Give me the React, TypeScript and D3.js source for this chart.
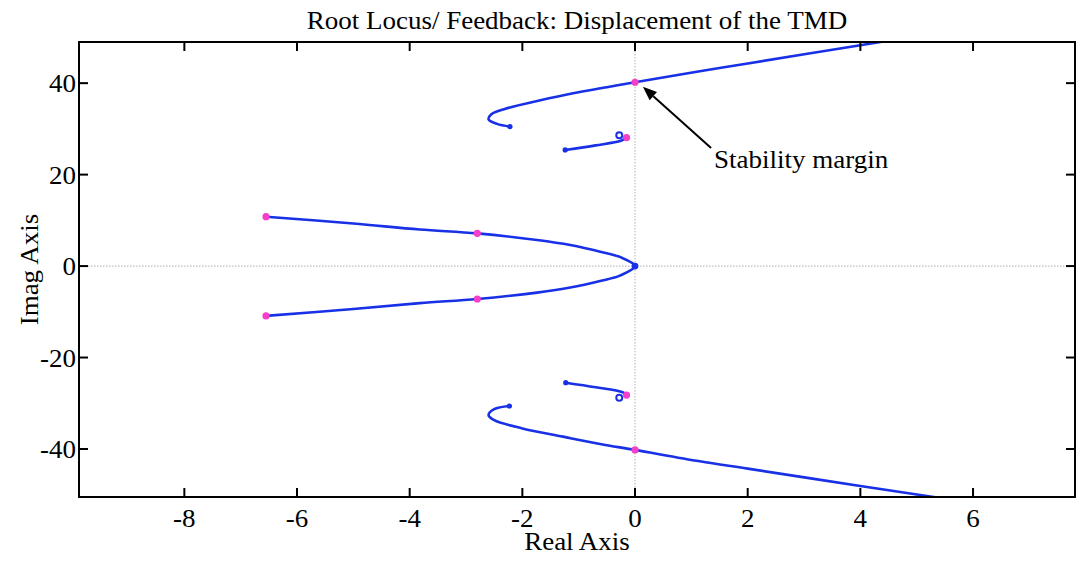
import React from "react";
import * as d3 from "d3";

type Pt = [number, number];

// Root locus branches (real, imag)
const outerUpper: Pt[] = [
  [-2.22, 30.5], [-2.45, 31.1], [-2.6, 32.1], [-2.55, 33.2], [-2.3, 34.4],
  [-1.7, 36.2], [-1.1, 37.8], [-0.5, 39.1], [0, 40.2], [1.15, 42.6],
  [2, 44.3], [4, 48.3], [5.5, 51.3],
];
const outerLower: Pt[] = [
  [-2.23, -30.6], [-2.5, -31.3], [-2.6, -32.6], [-2.5, -33.7], [-2.0, -35.5],
  [-1.28, -37.3], [-0.62, -38.9], [0, -40.2], [1.15, -42.7], [2, -44.3],
  [4, -48.1], [5.3, -50.5], [6, -51.9],
];
const innerUpper: Pt[] = [[-1.24, 25.4], [-0.7, 26.4], [-0.25, 27.4], [-0.15, 28.1]];
const innerLower: Pt[] = [[-1.23, -25.5], [-0.7, -26.5], [-0.22, -27.6], [-0.15, -28.2]];
const parabola: Pt[] = [
  [-6.55, 10.8], [-5, 9.3], [-3.82, 8.0], [-2.8, 7.15], [-1.74, 5.7], [-1.15, 4.6],
  [-0.6, 3.1], [-0.27, 2.0], [0, 0], [-0.27, -2.1], [-0.6, -3.2], [-1.15, -4.7],
  [-1.74, -5.8], [-2.8, -7.2], [-3.82, -8.1], [-5, -9.4], [-6.55, -10.9],
];
const branches: Pt[][] = [outerUpper, outerLower, innerUpper, innerLower, parabola];

// Closed-loop poles at the selected gain
const gainPoints: Pt[] = [
  [0, 40.2], [-0.15, 28.1], [-6.55, 10.8], [-2.8, 7.15],
  [-2.8, -7.2], [-6.55, -10.9], [-0.15, -28.2], [0, -40.2],
];
// Open-loop poles and zeros
const poles: Pt[] = [[-2.22, 30.5], [-1.24, 25.4], [-2.23, -30.6], [-1.23, -25.5]];
const originPole: Pt = [0, 0];
const zeros: Pt[] = [[-0.28, 28.6], [-0.28, -28.8]];

const xTicks = [-8, -6, -4, -2, 0, 2, 4, 6];
const yTicks = [-40, -20, 0, 20, 40];
const xDomain: Pt = [-9.87, 7.81];
const yDomain: Pt = [-50.5, 49];

const title = "Root Locus/ Feedback: Displacement of the TMD";
const xLabel = "Real Axis";
const yLabel = "Imag Axis";
const noteText = "Stability margin";
const noteTail: Pt = [1.35, 25.8];
const noteHead: Pt = [0.14, 39.2];

const W = 1078, H = 561;
const L = 79, R = 1075, T = 42, B = 497;
const FONT = "'Liberation Serif', 'Times New Roman', serif";
const FS = 25;
const SX = 1.08;
const BLUE = "#1830e6";
const PINK = "#f43fcb";

function Label(props: { x: number; y: number; anchor?: string; rotate?: number; children: React.ReactNode }) {
  const { x, y, anchor = "start", rotate = 0 } = props;
  return (
    <text transform={`translate(${x},${y}) rotate(${rotate}) scale(${SX},1)`} fontSize={FS}
      textAnchor={anchor} fill="#000">{props.children}</text>
  );
}

export default function App() {
  const x = d3.scaleLinear().domain(xDomain).range([L, R]);
  const y = d3.scaleLinear().domain(yDomain).range([B, T]);
  const line = d3.line<Pt>().x((d) => x(d[0])).y((d) => y(d[1])).curve(d3.curveCatmullRom.alpha(0.5));
  const tick = 9;

  const hx = x(noteHead[0]), hy = y(noteHead[1]);
  const tx = x(noteTail[0]), ty = y(noteTail[1]);
  const ang = Math.atan2(hy - ty, hx - tx);
  const aLen = 14, aW = 5.5;
  const bx = hx - aLen * Math.cos(ang), by = hy - aLen * Math.sin(ang);
  const head = [
    [hx, hy],
    [bx + aW * Math.sin(ang), by - aW * Math.cos(ang)],
    [bx - aW * Math.sin(ang), by + aW * Math.cos(ang)],
  ].map((p) => p.join(",")).join(" ");

  return (
    <svg width={W} height={H} style={{ position: "absolute", left: 0, top: 0, background: "#fff" }}
      fontFamily={FONT}>
      <defs>
        <clipPath id="plotArea">
          <rect x={L} y={T} width={R - L} height={B - T} />
        </clipPath>
      </defs>
      <rect width={W} height={H} fill="#fff" />
      {/* zero reference lines */}
      <line x1={x(0)} x2={x(0)} y1={T} y2={B} stroke="#bdbdbd" strokeWidth={1.2} strokeDasharray="1.5,1.5" />
      <line x1={L} x2={R} y1={y(0)} y2={y(0)} stroke="#bdbdbd" strokeWidth={1.2} strokeDasharray="1.5,1.5" />

      <g clipPath="url(#plotArea)">
        {branches.map((b, i) => (
          <path key={i} d={line(b) || ""} fill="none" stroke={BLUE} strokeWidth={2.6} strokeLinejoin="round" strokeLinecap="round" />
        ))}
        {poles.map((p, i) => (
          <circle key={"p" + i} cx={x(p[0])} cy={y(p[1])} r={2.6} fill={BLUE} />
        ))}
        <circle cx={x(originPole[0])} cy={y(originPole[1])} r={3.4} fill={BLUE} />
        {zeros.map((p, i) => (
          <circle key={"z" + i} cx={x(p[0])} cy={y(p[1])} r={3} fill="none" stroke={BLUE} strokeWidth={2} />
        ))}
        {gainPoints.map((p, i) => (
          <circle key={"g" + i} cx={x(p[0])} cy={y(p[1])} r={3.6} fill={PINK} />
        ))}
      </g>

      {/* annotation */}
      <line x1={tx} y1={ty} x2={bx} y2={by} stroke="#000" strokeWidth={2} />
      <polygon points={head} fill="#000" />
      <Label x={tx + 3} y={ty + 20}>{noteText}</Label>

      {/* frame and ticks */}
      <rect x={L} y={T} width={R - L} height={B - T} fill="none" stroke="#000" strokeWidth={2} />
      {xTicks.map((v) => (
        <g key={"x" + v}>
          <line x1={x(v)} x2={x(v)} y1={B} y2={B - tick} stroke="#000" strokeWidth={2} />
          <line x1={x(v)} x2={x(v)} y1={T} y2={T + tick} stroke="#000" strokeWidth={2} />
          <Label x={x(v)} y={B + 30} anchor="middle">{v}</Label>
        </g>
      ))}
      {yTicks.map((v) => (
        <g key={"y" + v}>
          <line x1={L} x2={L + tick} y1={y(v)} y2={y(v)} stroke="#000" strokeWidth={2} />
          <line x1={R} x2={R - tick} y1={y(v)} y2={y(v)} stroke="#000" strokeWidth={2} />
          <Label x={L - 3} y={y(v) + 9} anchor="end">{v}</Label>
        </g>
      ))}

      <Label x={(L + R) / 2} y={28.5} anchor="middle">{title}</Label>
      <Label x={(L + R) / 2} y={550} anchor="middle">{xLabel}</Label>
      <Label x={38} y={(T + B) / 2} anchor="middle" rotate={-90}>{yLabel}</Label>
    </svg>
  );
}
